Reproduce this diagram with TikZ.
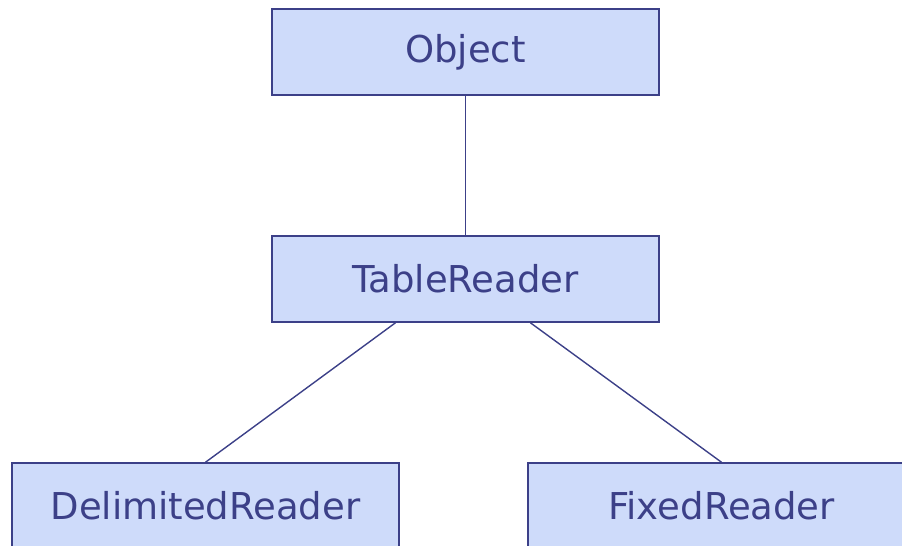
\documentclass[tikz,border=0pt]{standalone}
\usepackage{fontspec}
\setmainfont{DejaVu Sans}
\usetikzlibrary{positioning}
\definecolor{classfill}{RGB}{206,219,250}
\definecolor{classline}{RGB}{60,64,136}
\tikzset{
	hierarchy/.cd,
	link/.style = {
		classline,
		line width = 1.4pt
	},
}

\begin{document}
\begin{tikzpicture}[
		x = 1pt, y = 1pt,
		classbox/.style = {
			draw = classline,
			fill = classfill,
			text = classline,
			line width = 1.5pt,
			minimum width = 387pt,
			minimum height = 86pt,
			inner sep = 0pt,
			font = \fontsize{37}{40}\selectfont
		},
		node distance = 139.5pt
	]
		\useasboundingbox (0, 0) rectangle (902, -546);
		\node[classbox] (object) at (465.5, -52) {Object};
		\node[classbox, below = of object] (tablereader) {TableReader};
		\node[classbox, below = of tablereader, xshift = -260pt] (delimited) {DelimitedReader};
		\node[classbox, below = of tablereader, xshift = 256pt] (fixed) {FixedReader};
		\draw[hierarchy/link] (object) -- (tablereader);
		\draw[hierarchy/link] (tablereader.212.5) -- (delimited.north);
		\draw[hierarchy/link] (tablereader.326) -- (fixed.north);
	\end{tikzpicture}
\end{document}
